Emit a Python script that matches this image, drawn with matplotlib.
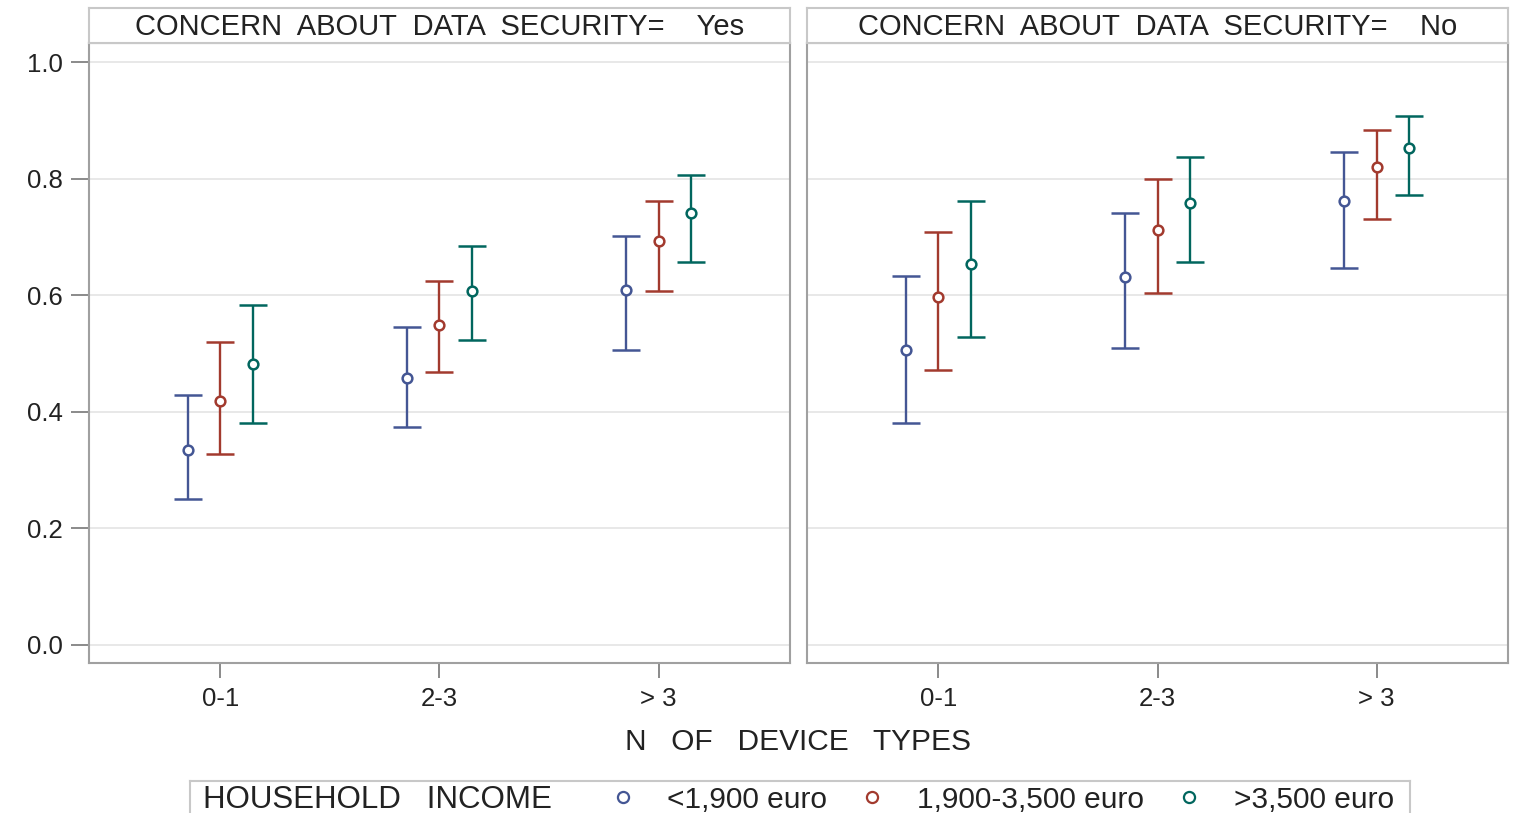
import numpy as np
import matplotlib
matplotlib.use("Agg")
import matplotlib.pyplot as plt
from matplotlib.lines import Line2D

# -------------------------------------------------------
# Share of respondents by number of device types, household income
# and concern about data security (mean with 95% CI)
# -------------------------------------------------------

categories = ["0-1", "2-3", "> 3"]
panels = ["Yes", "No"]
income_groups = ["<1,900 euro", "1,900-3,500 euro", ">3,500 euro"]
colors = ["#445694", "#A23A2E", "#01665E"]

# concern = Yes
yes_mean = [[0.334, 0.458, 0.609], [0.418, 0.549, 0.693], [0.482, 0.607, 0.741]]
yes_low = [[0.250, 0.374, 0.506], [0.328, 0.468, 0.607], [0.381, 0.523, 0.657]]
yes_high = [[0.429, 0.545, 0.702], [0.520, 0.624, 0.762], [0.583, 0.684, 0.806]]

# concern = No
no_mean = [[0.506, 0.631, 0.762], [0.597, 0.712, 0.820], [0.654, 0.758, 0.852]]
no_low = [[0.381, 0.509, 0.647], [0.472, 0.604, 0.731], [0.528, 0.657, 0.772]]
no_high = [[0.633, 0.741, 0.846], [0.708, 0.799, 0.883], [0.762, 0.837, 0.907]]

plt.rcParams["font.family"] = ["Liberation Sans", "DejaVu Sans"]

W, H = 1514, 813
fig = plt.figure(figsize=(W / 100, H / 100), dpi=100)

frame_col = "#a0a0a0"
grid_col = "#e4e4e4"
text_col = "#222222"
offsets = [-0.15, 0.0, 0.15]

panel_data = [(yes_mean, yes_low, yes_high), (no_mean, no_low, no_high)]
panel_left = [89, 807]
pw = 701
top, bottom = 43, 663
strip_top = 8

for p, (label, (means, lows, highs)) in enumerate(zip(panels, panel_data)):
    x0 = panel_left[p] / W
    ax = fig.add_axes([x0, 1 - bottom / H, pw / W, (bottom - top) / H])
    x = np.arange(len(categories))
    for g in range(3):
        m = np.array(means[g])
        lo = np.array(lows[g])
        hi = np.array(highs[g])
        ax.errorbar(x + offsets[g], m, yerr=[m - lo, hi - m], fmt="o",
                    color=colors[g], mfc="white", mec=colors[g], ms=7, mew=1.8,
                    elinewidth=1.7, capsize=10, capthick=1.7, zorder=3)
    ax.set_xlim(-0.6, 2.6)
    ax.set_ylim(-0.031, 1.033)
    ax.set_yticks(np.arange(0, 1.01, 0.2))
    ax.yaxis.grid(True, color=grid_col, lw=1.2)
    ax.set_axisbelow(True)
    ax.set_xticks(x)
    ax.set_xticklabels(categories, fontsize=18.5, color=text_col)
    ax.tick_params(axis="x", length=11, width=1.2, color="#777777", pad=6)
    if p == 0:
        ax.set_yticklabels([f"{v:.1f}" for v in np.arange(0, 1.01, 0.2)],
                           fontsize=18.5, color=text_col)
        ax.tick_params(axis="y", length=13, width=1.2, color="#777777", pad=6)
    else:
        ax.tick_params(axis="y", left=False, labelleft=False)
    for s in ax.spines.values():
        s.set_color(frame_col)
        s.set_linewidth(1.5)

    # header strip
    sx = fig.add_axes([x0, 1 - top / H, pw / W, (top - strip_top) / H])
    sx.set_xticks([])
    sx.set_yticks([])
    for s in sx.spines.values():
        s.set_color("#c8c8c8")
        s.set_linewidth(1.5)
    sx.text(0.5, 0.45, f"CONCERN  ABOUT  DATA  SECURITY=    {label}",
            ha="center", va="center", fontsize=21, color=text_col,
            transform=sx.transAxes)

fig.text(798 / W, 1 - 742 / H, "N   OF   DEVICE   TYPES", ha="center", va="center",
         fontsize=21.5, color=text_col)

# legend box
lx = fig.add_axes([190 / W, 0, 1220 / W, (H - 781) / H])
lx.set_xticks([])
lx.set_yticks([])
for s in lx.spines.values():
    s.set_color("#c8c8c8")
    s.set_linewidth(1.5)
lx.spines["bottom"].set_visible(False)
lx.text(0.011, 0.42, "HOUSEHOLD   INCOME", ha="left", va="center", fontsize=22.5,
        color=text_col, transform=lx.transAxes)
handles = [Line2D([], [], ls="none", marker="o", ms=8, mfc="white", mec=c, mew=1.6)
           for c in colors]
leg = lx.legend(handles, income_groups, ncol=3, frameon=False, loc="center right",
                bbox_to_anchor=(0.994, 0.42), fontsize=21.5, handletextpad=1.0,
                columnspacing=1.0, handlelength=1.0, borderaxespad=0.3,
                borderpad=0.0)
for t in leg.get_texts():
    t.set_color(text_col)

fig.savefig("out.png", dpi=100)
